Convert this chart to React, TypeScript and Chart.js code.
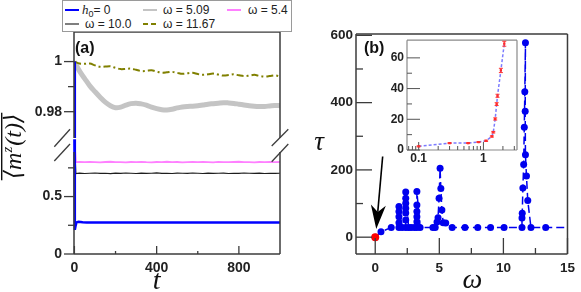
import React, { useEffect, useRef } from "react";
import { Chart, registerables } from "chart.js";

Chart.register(...registerables);
Chart.defaults.font.family = "'Liberation Sans', Arial, sans-serif";
Chart.defaults.color = "#222";

// ---------------- Panel (a) data ----------------
const T_GRID = [0, 25, 50, 75, 100, 125, 150, 175, 200, 225, 250, 275, 300, 325, 350, 375, 400, 425, 450, 475, 500, 525, 550, 575, 600, 625, 650, 675, 700, 725, 750, 775, 800, 825, 850, 875, 900, 925, 950, 975, 1000];
const MZ_OMEGA_1167 = [1.0, 0.9992, 0.9991, 0.9992, 0.9985, 0.9979, 0.998, 0.9981, 0.9975, 0.997, 0.9971, 0.9972, 0.9967, 0.9962, 0.9963, 0.9965, 0.996, 0.9956, 0.9957, 0.9959, 0.9955, 0.9951, 0.9953, 0.9955, 0.995, 0.9947, 0.9949, 0.9952, 0.9948, 0.9944, 0.9946, 0.9949, 0.9945, 0.9942, 0.9944, 0.9947, 0.9943, 0.994, 0.9942, 0.9945, 0.9941];
const MZ_OMEGA_509 = [1.0, 0.9962, 0.9932, 0.9903, 0.988, 0.9858, 0.9838, 0.9824, 0.9816, 0.9818, 0.9826, 0.9832, 0.9834, 0.9831, 0.9826, 0.9818, 0.9812, 0.9808, 0.9807, 0.981, 0.9815, 0.9819, 0.9821, 0.9822, 0.9824, 0.9827, 0.983, 0.9832, 0.9834, 0.9836, 0.9835, 0.9833, 0.983, 0.9827, 0.9824, 0.9822, 0.9821, 0.9821, 0.9823, 0.9825, 0.9824];
const T_FLAT = [0, 7, 25, 50, 75, 100, 125, 150, 175, 200, 225, 250, 275, 300, 325, 350, 375, 400, 425, 450, 475, 500, 525, 550, 575, 600, 625, 650, 675, 700, 725, 750, 775, 800, 825, 850, 875, 900, 925, 950, 975, 1000];
const MZ_OMEGA_54 = [1.0, 0.8, 0.801, 0.799, 0.802, 0.8, 0.798, 0.801, 0.803, 0.799, 0.8, 0.797, 0.801, 0.8, 0.802, 0.799, 0.798, 0.801, 0.8, 0.803, 0.799, 0.801, 0.798, 0.8, 0.802, 0.799, 0.801, 0.8, 0.798, 0.802, 0.8, 0.799, 0.801, 0.803, 0.799, 0.8, 0.798, 0.801, 0.8, 0.802, 0.799, 0.801];
const MZ_OMEGA_100 = [1.0, 0.7, 0.704, 0.701, 0.703, 0.705, 0.702, 0.703, 0.7, 0.704, 0.702, 0.705, 0.703, 0.701, 0.704, 0.702, 0.703, 0.706, 0.702, 0.703, 0.701, 0.704, 0.703, 0.702, 0.705, 0.703, 0.701, 0.704, 0.702, 0.703, 0.704, 0.701, 0.703, 0.702, 0.705, 0.703, 0.702, 0.704, 0.701, 0.703, 0.702, 0.703];
const H0_T = [0, 2, 5, 10, 20, 30, 40, 60, 1000];
const MZ_H0 = [1.0, 0.21, 0.24, 0.275, 0.28, 0.279, 0.276, 0.275, 0.275];

const A_X_TICKS = [0, 400, 800];
const A_X_LABELS = ["0", "400", "800"];
const A_X_MINOR = [200, 600];
const A_YU_TICKS = [0.98, 1];
const A_YU_LABELS = ["0.98", "1"];
const A_YU_MINOR = [0.99];
const A_YL_TICKS = [0, 0.5];
const A_YL_LABELS = ["0", "0.5"];
const A_YL_MINOR = [0.25, 0.75];

// ---------------- Panel (b) data ----------------
const B_OMEGA = [0, 0.45, 1.25, 1.85, 1.85, 1.85, 1.85, 1.85, 2.1, 2.38, 2.38, 2.38, 2.38, 2.38, 2.38, 2.38, 2.6, 2.8, 3.05, 3.25, 3.25, 3.25, 3.25, 3.25, 3.25, 3.5, 4.5, 4.68, 4.82, 4.9, 4.98, 5.06, 5.12, 5.2, 5.3, 5.5, 6.0, 7.0, 8.0, 9.0, 10.05, 11.45, 11.45, 11.47, 11.52, 11.58, 11.63, 11.67, 11.72, 11.7, 11.72, 11.8, 11.9, 12.15, 13.3, 16];
const B_TAU = [0, 16, 29, 29, 43, 61, 76, 91, 29, 29, 51, 72, 86, 101, 116, 134, 29, 29, 29, 29, 46, 61, 76, 96, 136, 29, 29, 29, 45, 58, 116, 205, 145, 81, 43, 42, 29, 29, 29, 29, 29, 29, 57, 71, 146, 216, 327, 432, 578, 374, 245, 182, 109, 29, 29, 29];
const B_RED_OMEGA = [0];
const B_RED_TAU = [0];
const B_X_TICKS = [0, 5, 10, 15];
const B_X_LABELS = ["0", "5", "10", "15"];
const B_X_MINOR = [2.5, 7.5, 12.5];
const B_Y_TICKS = [0, 200, 400, 600];
const B_Y_LABELS = ["0", "200", "400", "600"];
const B_Y_MINOR = [100, 300, 500];
const ARROW_FROM = [0.58, 240];
const ARROW_TO = [0.08, 24];

// ---------------- Inset data ----------------
const INSET_OMEGA = [0.1, 0.3, 0.58, 0.84, 1.1, 1.35, 1.42, 1.52, 1.6, 1.65, 1.86, 2.1];
const INSET_TAU = [2.4, 4.5, 4.5, 5.2, 6.0, 8.8, 11.6, 20.2, 29.9, 35.3, 51.8, 69.2];
const INSET_ERR = [0.3, 0.3, 0.3, 0.3, 0.4, 0.4, 0.5, 0.7, 0.9, 1.0, 1.4, 1.6];
const INSET_X_TICKS = [0.1, 1];
const INSET_X_LABELS = ["0.1", "1"];
const INSET_X_MINOR = [0.07, 0.08, 0.09, 0.2, 0.3, 0.4, 0.5, 0.6, 0.7, 0.8, 0.9, 2, 3];
const INSET_Y_TICKS = [0, 20, 40, 60];
const INSET_Y_LABELS = ["0", "20", "40", "60"];
const INSET_Y_MINOR = [10, 30, 50];

// ---------------- styles ----------------
const FRAME = "#3c3c3c";
const BLUE_A = "#0000ff";
const GRAY_A = "#c4c4c4";
const PINK_A = "#ff80ff";
const BLACK_A = "#1e1e1e";
const OLIVE_A = "#808000";
const BLUE_B = "#0000ee";
const SERIF_IT = "'Liberation Serif', 'DejaVu Serif', serif";

function pts(xs: number[], ys: number[]) {
  const out: { x: number; y: number }[] = [];
  xs.forEach((x, i) => {
    if (ys[i] !== undefined) out.push({ x, y: ys[i] });
  });
  return out;
}

type TickSpec = { axis: string; values: number[]; len: number; out?: boolean };

function tickMarks(id: string, specs: TickSpec[], color = FRAME, width = 1.3) {
  return {
    id,
    afterDatasetsDraw(chart: any) {
      const { ctx, chartArea: a } = chart;
      ctx.save();
      ctx.strokeStyle = color;
      ctx.lineWidth = width;
      for (const s of specs) {
        const sc = chart.scales[s.axis];
        for (const v of s.values) {
          const p = sc.getPixelForValue(v);
          ctx.beginPath();
          if (sc.isHorizontal()) {
            ctx.moveTo(p, a.bottom);
            ctx.lineTo(p, s.out ? a.bottom + s.len : a.bottom - s.len);
          } else {
            ctx.moveTo(a.left, p);
            ctx.lineTo(s.out ? a.left - s.len : a.left + s.len, p);
          }
          ctx.stroke();
        }
      }
      ctx.restore();
    },
  };
}

function frame(id: string, sides: string[], color = FRAME, width = 1.5, fill?: string) {
  return {
    id,
    beforeDatasetsDraw(chart: any) {
      if (!fill) return;
      const { ctx, chartArea: a } = chart;
      ctx.save();
      ctx.fillStyle = fill;
      ctx.fillRect(a.left, a.top, a.right - a.left, a.bottom - a.top);
      ctx.restore();
    },
    afterDatasetsDraw(chart: any) {
      const { ctx, chartArea: a } = chart;
      ctx.save();
      ctx.strokeStyle = color;
      ctx.lineWidth = width;
      ctx.beginPath();
      if (sides.includes("top")) { ctx.moveTo(a.left, a.top); ctx.lineTo(a.right, a.top); }
      if (sides.includes("bottom")) { ctx.moveTo(a.left, a.bottom); ctx.lineTo(a.right, a.bottom); }
      if (sides.includes("left")) { ctx.moveTo(a.left, a.top); ctx.lineTo(a.left, a.bottom); }
      if (sides.includes("right")) { ctx.moveTo(a.right, a.top); ctx.lineTo(a.right, a.bottom); }
      ctx.stroke();
      ctx.restore();
    },
  };
}

function drawing(id: string, fn: (ctx: CanvasRenderingContext2D, chart: any) => void) {
  return {
    id,
    afterDraw(chart: any) {
      const ctx = chart.ctx;
      ctx.save();
      fn(ctx, chart);
      ctx.restore();
    },
  };
}

function axisTicks(values: number[], labels: string[], size: number, padding: number) {
  return {
    afterBuildTicks: (s: any) => {
      s.ticks = values.map((v) => ({ value: v }));
    },
    ticks: {
      callback: (_v: any, i: number) => labels[i],
      font: { size, weight: "bold" as const },
      color: "#222",
      padding,
      autoSkip: false,
      maxRotation: 0,
      minRotation: 0,
    },
    grid: { display: false, drawTicks: false },
    border: { display: false },
  };
}

const baseOptions = {
  responsive: false,
  animation: false as const,
  events: [] as any[],
  plugins: { legend: { display: false }, tooltip: { enabled: false } },
};

function makeUpperA(): any {
  return {
    type: "line",
    data: {
      datasets: [
        { data: pts(H0_T, MZ_H0), borderColor: BLUE_A, borderWidth: 2.5, pointRadius: 0, tension: 0 },
        { data: pts(T_GRID, MZ_OMEGA_1167), borderColor: OLIVE_A, borderWidth: 2, borderDash: [7, 3, 2, 3], pointRadius: 0, tension: 0.35 },
        { data: pts(T_GRID, MZ_OMEGA_509), borderColor: GRAY_A, borderWidth: 5, pointRadius: 0, tension: 0.35 },
      ],
    },
    options: {
      ...baseOptions,
      layout: { padding: { top: 32, bottom: 154, left: 0, right: 10 } },
      scales: {
        x: { type: "linear", min: -2, max: 1000, display: false },
        y: {
          type: "linear",
          min: 0.9695,
          max: 1.0118,
          afterFit: (s: any) => { s.width = 74; },
          ...axisTicks(A_YU_TICKS, A_YU_LABELS, 14, 12),
        },
      },
    },
    plugins: [
      frame("frameA1", ["top", "left", "right"]),
      tickMarks("ticksA1", [
        { axis: "y", values: A_YU_TICKS, len: 10, out: true },
        { axis: "y", values: A_YU_MINOR, len: 6, out: true },
      ]),
      drawing("txtA1", (ctx, chart) => {
        const a = chart.chartArea;
        ctx.fillStyle = "#111";
        ctx.font = "bold 16px 'Liberation Sans', Arial, sans-serif";
        ctx.textAlign = "left";
        ctx.textBaseline = "middle";
        ctx.fillText("(a)", a.left + 1, a.top + 17);
      }),
    ],
  };
}

function makeLowerA(): any {
  return {
    type: "line",
    data: {
      datasets: [
        { data: pts(H0_T, MZ_H0), borderColor: BLUE_A, borderWidth: 2.5, pointRadius: 0, tension: 0, clip: { left: 5, right: 5, top: 14, bottom: 5 } },
        { data: pts(T_FLAT, MZ_OMEGA_54), borderColor: PINK_A, borderWidth: 1.8, pointRadius: 0, tension: 0 },
        { data: pts(T_FLAT, MZ_OMEGA_100), borderColor: BLACK_A, borderWidth: 1.2, pointRadius: 0, tension: 0 },
      ],
    },
    options: {
      ...baseOptions,
      layout: { padding: { top: 152, bottom: 0, left: 0, right: 10 } },
      scales: {
        x: {
          type: "linear",
          min: -2,
          max: 1000,
          afterFit: (s: any) => { s.height = 38; },
          ...axisTicks(A_X_TICKS, A_X_LABELS, 14, 6),
        },
        y: {
          type: "linear",
          min: 0,
          max: 0.888,
          afterFit: (s: any) => { s.width = 74; },
          ...axisTicks(A_YL_TICKS, A_YL_LABELS, 14, 12),
        },
      },
    },
    plugins: [
      frame("frameA2", ["bottom", "left", "right"]),
      tickMarks("ticksA2", [
        { axis: "x", values: A_X_TICKS, len: 8 },
        { axis: "x", values: A_X_MINOR, len: 3 },
        { axis: "y", values: A_YL_TICKS, len: 10, out: true },
        { axis: "y", values: A_YL_MINOR, len: 6, out: true },
      ]),
      drawing("txtA2", (ctx, chart) => {
        const a = chart.chartArea;
        // axis break marks
        ctx.strokeStyle = FRAME;
        ctx.lineWidth = 1.3;
        const marks = [
          [a.right - 8.3, a.top - 6, a.right + 8.3, a.top - 22.7],
          [a.right - 8.3, a.top + 9.7, a.right + 8.3, a.top - 8],
          [a.left - 19.7, a.top - 5.3, a.left - 4, a.top - 22.7],
          [a.left - 19.7, a.top + 9, a.left - 4, a.top - 8],
        ];
        for (const m of marks) {
          ctx.beginPath();
          ctx.moveTo(m[0], m[1]);
          ctx.lineTo(m[2], m[3]);
          ctx.stroke();
        }
        // x title
        ctx.fillStyle = "#111";
        ctx.font = `italic 28px ${SERIF_IT}`;
        ctx.textAlign = "center";
        ctx.textBaseline = "alphabetic";
        ctx.fillText("t", chart.scales.x.getPixelForValue(400), 289);
        // y title: overline <m^z(t)>
        ctx.translate(15, 147);
        ctx.rotate(-Math.PI / 2);
        const big = `italic 24px ${SERIF_IT}`;
        const small = `italic 15px ${SERIF_IT}`;
        const parts = [
          { t: "\u27E8", f: big, dy: 0 },
          { t: "m", f: big, dy: 0 },
          { t: "z", f: small, dy: -9 },
          { t: "(t)", f: big, dy: 0 },
          { t: "\u27E9", f: big, dy: 0 },
        ];
        let w = 0;
        const widths = parts.map((p) => {
          ctx.font = p.f;
          const m = ctx.measureText(p.t).width;
          w += m;
          return m;
        });
        let x = -w / 2;
        ctx.textAlign = "left";
        parts.forEach((p, i) => {
          ctx.font = p.f;
          ctx.fillText(p.t, x, 6 + p.dy);
          x += widths[i] + (p.t === "z" ? 1 : 0);
        });
        ctx.fillRect(-w / 2 - 1, -14, w + 3, 1.4);
      }),
    ],
  };
}

function makePanelB(): any {
  return {
    type: "line",
    data: {
      datasets: [
        { data: pts(B_RED_OMEGA, B_RED_TAU), borderColor: "#ff0000", backgroundColor: "#ff0000", pointRadius: 4, pointBorderWidth: 0, showLine: false },
        { data: pts(B_OMEGA, B_TAU), borderColor: BLUE_B, backgroundColor: BLUE_B, borderWidth: 1.5, borderDash: [8, 4], pointRadius: 3.5, pointBorderWidth: 0, tension: 0 },
      ],
    },
    options: {
      ...baseOptions,
      layout: { padding: { top: 34, bottom: 0, left: 0, right: 8 } },
      scales: {
        x: {
          type: "linear",
          min: -1.5,
          max: 15,
          afterFit: (s: any) => { s.height = 38; },
          ...axisTicks(B_X_TICKS, B_X_LABELS, 13.5, 6),
        },
        y: {
          type: "linear",
          min: -50,
          max: 604,
          afterFit: (s: any) => { s.width = 66; },
          ...axisTicks(B_Y_TICKS, B_Y_LABELS, 13.5, 3),
        },
      },
    },
    plugins: [
      frame("frameB", ["top", "bottom", "left", "right"]),
      tickMarks("ticksB", [
        { axis: "x", values: B_X_TICKS, len: 16 },
        { axis: "x", values: B_X_MINOR, len: 6 },
        { axis: "y", values: B_Y_TICKS, len: 16 },
        { axis: "y", values: B_Y_MINOR, len: 7 },
      ]),
      drawing("txtB", (ctx, chart) => {
        const a = chart.chartArea;
        const xs = chart.scales.x;
        const ys = chart.scales.y;
        ctx.fillStyle = "#111";
        ctx.font = "bold 16px 'Liberation Sans', Arial, sans-serif";
        ctx.textAlign = "left";
        ctx.textBaseline = "middle";
        ctx.fillText("(b)", a.left + 8, a.top + 15);
        ctx.font = `italic 28px ${SERIF_IT}`;
        ctx.textAlign = "center";
        ctx.textBaseline = "alphabetic";
        ctx.fillText("\u03C9", xs.getPixelForValue(7.5) + 1, 288);
        ctx.font = `italic 27px ${SERIF_IT}`;
        ctx.fillText("\u03C4", a.left - 37, (a.top + a.bottom) / 2 + 6);
        // arrow
        const fx = xs.getPixelForValue(ARROW_FROM[0]);
        const fy = ys.getPixelForValue(ARROW_FROM[1]);
        const tx = xs.getPixelForValue(ARROW_TO[0]);
        const ty = ys.getPixelForValue(ARROW_TO[1]);
        const dx = tx - fx, dy = ty - fy;
        const L = Math.hypot(dx, dy);
        const ux = dx / L, uy = dy / L;
        const nx = -uy, ny = ux;
        const head = 24, half = 7.5;
        const bx = tx - ux * head, by = ty - uy * head;
        const kx = tx - ux * head * 0.72, ky = ty - uy * head * 0.72;
        ctx.strokeStyle = "#000";
        ctx.fillStyle = "#000";
        ctx.lineWidth = 1.6;
        ctx.beginPath();
        ctx.moveTo(fx, fy);
        ctx.lineTo(kx, ky);
        ctx.stroke();
        ctx.beginPath();
        ctx.moveTo(tx, ty);
        ctx.lineTo(bx + nx * half, by + ny * half);
        ctx.lineTo(kx, ky);
        ctx.lineTo(bx - nx * half, by - ny * half);
        ctx.closePath();
        ctx.fill();
      }),
    ],
  };
}

function makeInset(): any {
  return {
    type: "line",
    data: {
      datasets: [
        { data: pts(INSET_OMEGA, INSET_TAU), borderColor: "rgba(100,100,255,0.85)", backgroundColor: "#ff2020", borderWidth: 1.5, borderDash: [3, 2], pointStyle: "rect", pointRadius: 1.6, pointBorderWidth: 0, tension: 0 },
      ],
    },
    options: {
      ...baseOptions,
      layout: { padding: { top: 9, bottom: 0, left: 0, right: 8 } },
      scales: {
        x: {
          type: "logarithmic",
          min: 0.066,
          max: 3.3,
          afterFit: (s: any) => { s.height = 20; },
          ...axisTicks(INSET_X_TICKS, INSET_X_LABELS, 12, 1),
        },
        y: {
          type: "linear",
          min: 0,
          max: 71.5,
          afterFit: (s: any) => { s.width = 27; },
          ...axisTicks(INSET_Y_TICKS, INSET_Y_LABELS, 12, 3),
        },
      },
    },
    plugins: [
      frame("frameC", ["top", "bottom", "left", "right"], "#8a8a8a", 1.2, "#ffffff"),
      tickMarks("ticksC", [
        { axis: "x", values: INSET_X_TICKS, len: 8 },
        { axis: "x", values: INSET_X_MINOR, len: 4 },
        { axis: "y", values: INSET_Y_TICKS, len: 13 },
        { axis: "y", values: INSET_Y_MINOR, len: 5 },
      ], "#555", 1),
      drawing("errC", (ctx, chart) => {
        const xs = chart.scales.x;
        const ys = chart.scales.y;
        ctx.strokeStyle = "#ff3030";
        ctx.lineWidth = 1;
        INSET_OMEGA.forEach((w, i) => {
          const px = xs.getPixelForValue(w);
          const y1 = ys.getPixelForValue(INSET_TAU[i] - INSET_ERR[i]);
          const y2 = ys.getPixelForValue(INSET_TAU[i] + INSET_ERR[i]);
          ctx.beginPath();
          ctx.moveTo(px, y1); ctx.lineTo(px, y2);
          ctx.moveTo(px - 2, y1); ctx.lineTo(px + 2, y1);
          ctx.moveTo(px - 2, y2); ctx.lineTo(px + 2, y2);
          ctx.stroke();
        });
      }),
    ],
  };
}

function ChartCanvas(props: { make: () => any; left: number; top: number; width: number; height: number }) {
  const ref = useRef<HTMLCanvasElement>(null);
  useEffect(() => {
    const chart = new Chart(ref.current as HTMLCanvasElement, props.make());
    return () => chart.destroy();
  }, []);
  return (
    <canvas
      ref={ref}
      width={props.width}
      height={props.height}
      style={{ position: "absolute", left: props.left, top: props.top, width: props.width, height: props.height }}
    />
  );
}

function Sample(props: { color: string; dash?: string; width?: number; left: number; top: number }) {
  return (
    <svg width={14} height={6} style={{ position: "absolute", left: props.left, top: props.top }}>
      <line x1={0} y1={3} x2={14} y2={3} stroke={props.color} strokeWidth={props.width ?? 2} strokeDasharray={props.dash} />
    </svg>
  );
}

function Legend() {
  const txt: React.CSSProperties = { position: "absolute", whiteSpace: "nowrap", lineHeight: "14px", fontSize: 12 };
  return (
    <div
      style={{
        position: "absolute",
        left: 62,
        top: 0,
        width: 230,
        height: 32,
        boxSizing: "border-box",
        border: "1px solid #9a9a9a",
        background: "#fff",
        fontFamily: "'Liberation Sans', Arial, sans-serif",
        color: "#222",
      }}
    >
      <Sample color={BLUE_A} left={2} top={6} />
      <span style={{ ...txt, left: 19, top: 2 }}>
        <span style={{ fontFamily: SERIF_IT, fontStyle: "italic", fontSize: 13 }}>h</span>
        <span style={{ fontSize: 9, position: "relative", top: 3 }}>0</span>= 0
      </span>
      <Sample color={GRAY_A} left={80} top={6} />
      <span style={{ ...txt, left: 100, top: 2 }}>ω = 5.09</span>
      <Sample color={PINK_A} left={164} top={6} />
      <span style={{ ...txt, left: 185, top: 2 }}>ω = 5.4</span>
      <Sample color="#555" width={1.5} left={2} top={20} />
      <span style={{ ...txt, left: 22, top: 16 }}>ω = 10.0</span>
      <Sample color={OLIVE_A} dash="5 3" left={80} top={20} />
      <span style={{ ...txt, left: 100, top: 16 }}>ω = 11.67</span>
    </div>
  );
}

export default function App() {
  return (
    <div style={{ position: "absolute", left: 0, top: 0, width: 581, height: 292, background: "#fff", overflow: "hidden" }}>
      <ChartCanvas make={makeLowerA} left={0} top={0} width={290} height={292} />
      <ChartCanvas make={makeUpperA} left={0} top={0} width={290} height={292} />
      <ChartCanvas make={makePanelB} left={290} top={0} width={291} height={292} />
      <ChartCanvas make={makeInset} left={380} top={30} width={145} height={140} />
      <Legend />
    </div>
  );
}
